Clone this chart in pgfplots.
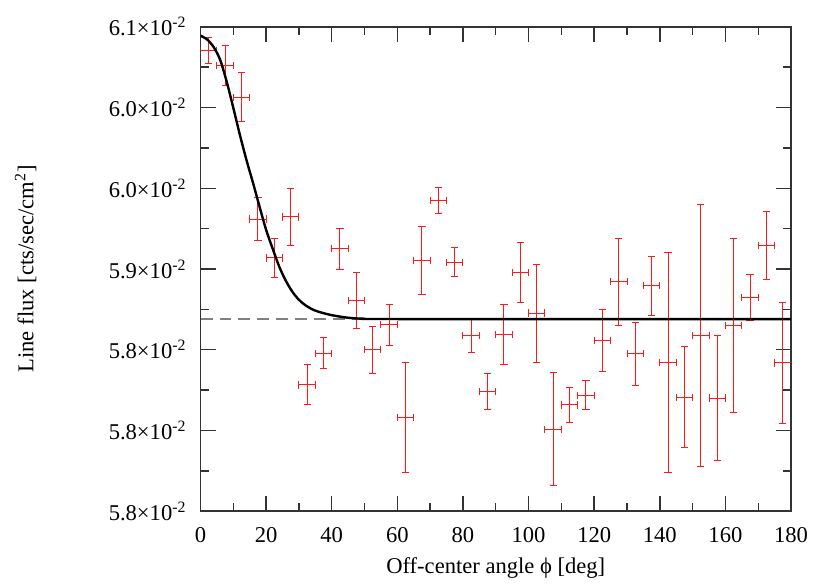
\documentclass[border=0pt]{standalone}
\usepackage{fontspec}
\setmainfont{Liberation Serif}
\usepackage{pgfplots}
\usepackage{pgfplotstable}
\pgfplotsset{compat=1.18}

% flux per 5 deg bin, y in units of 1e-2
\pgfplotstableread{
x     y       ex   ey
2.5   6.0853  2.5  0.0082
7.5   6.0759  2.5  0.0126
12.5  6.0564  2.5  0.0154
17.5  5.9809  2.5  0.0133
22.5  5.9568  2.5  0.0123
27.5  5.9822  2.5  0.0178
32.5  5.8782  2.5  0.0124
37.5  5.8979  2.5  0.0096
42.5  5.9625  2.5  0.0126
47.5  5.9305  2.5  0.0171
52.5  5.9001  2.5  0.0145
57.5  5.9155  2.5  0.0128
62.5  5.8581  2.5  0.0343
67.5  5.9553  2.5  0.0210
72.5  5.9926  2.5  0.0080
77.5  5.9542  2.5  0.0091
82.5  5.9087  2.5  0.0107
87.5  5.8742  2.5  0.0114
92.5  5.9093  2.5  0.0184
97.5  5.9477  2.5  0.0187
102.5 5.9227  2.5  0.0303
107.5 5.8507  2.5  0.0350
112.5 5.8658  2.5  0.0109
117.5 5.8719  2.5  0.0092
122.5 5.9058  2.5  0.0194
127.5 5.9421  2.5  0.0268
132.5 5.8975  2.5  0.0196
137.5 5.9397  2.5  0.0183
142.5 5.8921  2.5  0.0684
147.5 5.8705  2.5  0.0312
152.5 5.9090  2.5  0.0812
157.5 5.8701  2.5  0.0388
162.5 5.9151  2.5  0.0540
167.5 5.9323  2.5  0.0143
172.5 5.9644  2.5  0.0212
177.5 5.8918  2.5  0.0375
}\fluxdata

\begin{document}
\begin{tikzpicture}
\begin{axis}[
  name=ax,
  width=295.5pt, height=242.5pt, scale only axis,
  xmin=0, xmax=180, ymin=5.80, ymax=6.10,
  xtick={0,20,...,180}, minor x tick num=1,
  ytick={5.80,5.85,5.90,5.95,6.00,6.05,6.10}, minor y tick num=1,
  yticklabels={5.8×10\textsuperscript{-2},5.8×10\textsuperscript{-2},5.8×10\textsuperscript{-2},
    5.9×10\textsuperscript{-2},6.0×10\textsuperscript{-2},6.0×10\textsuperscript{-2},6.1×10\textsuperscript{-2}},
  tick align=inside, xtick pos=both, ytick pos=both,
  major tick length=7.5pt, minor tick length=4pt,
  axis line style={line width=0.9pt, black!80},
  every tick/.style={line width=0.7pt, black!80},
  /pgf/number format/assume math mode=true,
  font=\fontsize{11.3}{13}\selectfont,
  xticklabel style={yshift=-4.5pt},
  yticklabel style={xshift=-3.5pt},
  xlabel={Off-center angle ϕ [deg]},
  ylabel={Line flux [cts/sec/cm\textsuperscript{2}]},
  xlabel style={at={(axis description cs:0.5,-0.118)}, anchor=center},
  ylabel style={at={(axis description cs:-0.296,0.5)}, anchor=center},
]
\addplot[gray, line width=0.6pt, dash pattern=on 6pt off 3.5pt] coordinates {(0,5.9190) (180,5.9190)};
\addplot[color=red!90, only marks, mark=*, mark size=0pt,
  error bars/.cd, x dir=both, x explicit, y dir=both, y explicit,
  error mark options={rotate=90, mark size=1.8pt, line width=0.5pt, draw=red!90},
  error bar style={line width=0.5pt, draw=red!90, solid}]
  table[x=x, y=y, x error=ex, y error=ey] {\fluxdata};
\addplot[black, line width=1.2pt, smooth] coordinates {
  (0,6.0944) (2,6.0921) (4,6.0874) (6,6.0794) (8,6.0658) (10,6.0497)
  (12,6.0330) (14,6.0175) (16,6.0033) (18,5.9885) (20,5.9742) (22,5.9625)
  (24,5.9514) (26,5.9427) (28,5.9359) (30,5.9309) (32,5.9275) (34,5.9251)
  (36,5.9235) (40,5.9214) (45,5.9198) (50,5.9192) (60,5.9190) (180,5.9190)
};
\end{axis}
\path ([shift={(-100.35pt,-34.65pt)}]ax.south west) rectangle ([shift={(19.5pt,13.35pt)}]ax.north east);
\end{tikzpicture}
\end{document}
